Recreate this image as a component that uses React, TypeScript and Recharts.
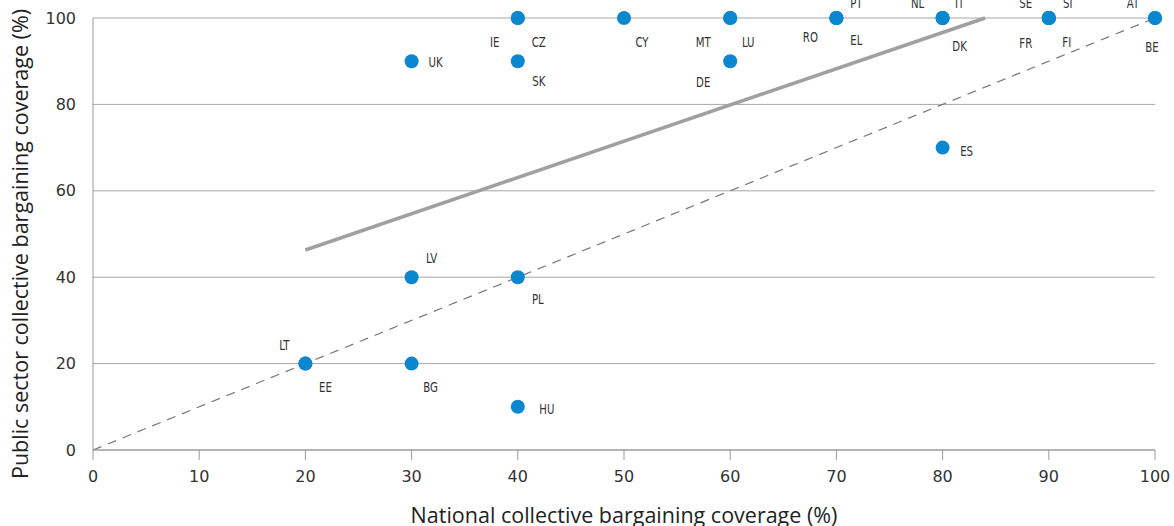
import React from 'react'
import { ScatterChart, Scatter, XAxis, YAxis, CartesianGrid, ReferenceLine } from 'recharts'

const countries = ['UK', 'IE', 'CZ', 'SK', 'CY', 'MT', 'LU', 'DE', 'RO', 'EL', 'PT', 'NL', 'IT', 'DK', 'ES', 'SE', 'SI', 'FR', 'FI', 'AT', 'BE', 'LV', 'PL', 'LT', 'EE', 'BG', 'HU']
const nationalCoverage = [30, 40, 40, 40, 50, 60, 60, 60, 70, 70, 70, 80, 80, 80, 80, 90, 90, 90, 90, 100, 100, 30, 40, 20, 20, 30, 40]
const publicCoverage = [90, 100, 100, 90, 100, 100, 100, 90, 100, 100, 100, 100, 100, 100, 70, 100, 100, 100, 100, 100, 100, 40, 40, 20, 20, 20, 10]

const xTicks = [0, 10, 20, 30, 40, 50, 60, 70, 80, 90, 100]
const yTicks = [0, 20, 40, 60, 80, 100]

// fitted trend line (ends) and 45-degree reference
const trendLine = [{ x: 20, y: 46.3 }, { x: 84, y: 100 }]
const diagonal = [{ x: 0, y: 0 }, { x: 100, y: 100 }]

// label offsets in px from the dot
const labelOffset: Record<string, [number, number]> = {
  UK: [24, 1], IE: [-23, 24], CZ: [21, 24], SK: [21, 20], CY: [18, 24],
  MT: [-27, 24], LU: [18, 24], DE: [-27, 21], RO: [-26, 19], EL: [20, 22],
  PT: [20, -15], NL: [-25, -15], IT: [17, -15], DK: [17, 28], ES: [24, 3],
  SE: [-23, -15], SI: [19, -15], FR: [-23, 25], FI: [18, 24], AT: [-22, -15],
  BE: [-3, 29], LV: [20, -19], PL: [20, 22], LT: [-21, -19], EE: [20, 23],
  BG: [19, 23], HU: [29, 2],
}

const points = countries.map((c, i) => ({ code: c, x: nationalCoverage[i], y: publicCoverage[i] }))

const Dot = (props: any) => {
  const { cx, cy, payload } = props
  const [dx, dy] = labelOffset[payload.code] || [0, 0]
  return (
    <g>
      <circle cx={cx} cy={cy} r={7} fill="#0a87cf" />
      <text transform={`translate(${cx + dx},${cy + dy}) scale(0.78,1)`} dy="0.36em" textAnchor="middle"
        fontSize={14.5} fontFamily="'DejaVu Sans Condensed', 'DejaVu Sans'" fill="#333">
        {payload.code}
      </text>
    </g>
  )
}

export default function App() {
  const font = "'Open Sans', sans-serif"
  const tickFont = "'DejaVu Sans', sans-serif"
  return (
    <div style={{ position: 'fixed', left: 0, top: 0, width: 1174, height: 526, background: '#fff' }}>
      <ScatterChart width={1174} height={526} margin={{ top: 18, right: 19, left: 0, bottom: 0 }}>
        <CartesianGrid vertical={false} stroke="#a6a6a6" />
        <XAxis type="number" dataKey="x" domain={[0, 100]} ticks={xTicks} interval={0}
          stroke="#999" tickSize={10} tickMargin={11} height={76}
          tick={{ fill: '#333', fontSize: 16, fontFamily: tickFont }}
          label={{ content: () => (
            <text x={624} y={523} textAnchor="middle" fontSize={21.5} fontFamily={font} fill="#222">
              National collective bargaining coverage (%)
            </text>
          ) }} />
        <YAxis type="number" dataKey="y" domain={[0, 100]} ticks={yTicks} interval={0}
          stroke="#999" tickLine={false} tickMargin={11} width={93}
          tick={{ fill: '#333', fontSize: 16, fontFamily: tickFont }}
          label={{ content: () => (
            <text x={28} y={244} transform="rotate(-90 28 244)" textAnchor="middle" fontSize={21.5} fontFamily={font} fill="#222">
              Public sector collective bargaining coverage (%)
            </text>
          ) }} />
        <ReferenceLine segment={diagonal} stroke="#777" strokeDasharray="9 7" strokeWidth={1.2} />
        <ReferenceLine segment={trendLine} stroke="#a0a0a0" strokeWidth={3.5} />
        <Scatter data={points} shape={Dot} isAnimationActive={false} />
      </ScatterChart>
    </div>
  )
}
